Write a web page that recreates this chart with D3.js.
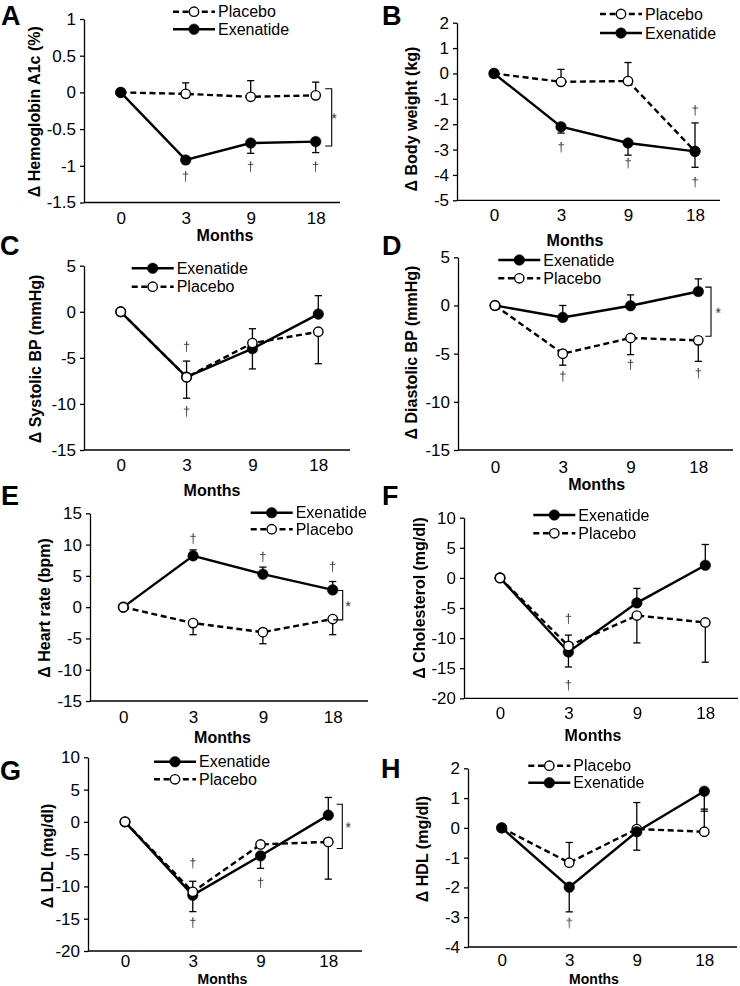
<!DOCTYPE html>
<html><head><meta charset="utf-8">
<script src="https://cdn.jsdelivr.net/npm/d3@7"></script>
<style>
body{margin:0;background:#fff}
svg{display:block}
text{font-family:"Liberation Sans",Arial,Helvetica,sans-serif;fill:#000}
.dags{will-change:transform}
</style>
</head><body>
<svg id="chart" width="740" height="986"></svg>
<script>
// ---------- categories ----------
const months = ["0", "3", "9", "18"];

// ---------- A: Hemoglobin A1c (%) ----------
const hba1cPlacebo      = [0, -0.02, -0.06, -0.04];
const hba1cPlaceboErr   = [0, 0.15, 0.22, 0.18];      // + = bar up, - = bar down
const hba1cExenatide    = [0, -0.92, -0.69, -0.67];
const hba1cExenatideErr = [0, -0.05, -0.14, -0.15];
const hba1cTicks  = [1, 0.5, 0, -0.5, -1, -1.5];
const hba1cLabels = ["1", "0.5", "0", "-0.5", "-1", "-1.5"];
const hba1cDaggers = [["3", -1.14], ["9", -1.01], ["18", -1.01]];
const hba1cBracket = [0.05, -0.73];

// ---------- B: Body weight (kg) ----------
const weightPlacebo      = [0, -0.33, -0.30, -3.07];
const weightPlaceboErr   = [0, 0.49, 0.73, 1.12];
const weightExenatide    = [0, -2.10, -2.74, -3.07];
const weightExenatideErr = [0, -0.25, -0.48, -0.63];
const weightTicks  = [2, 1, 0, -1, -2, -3, -4, -5];
const weightLabels = ["2", "1", "0", "-1", "-2", "-3", "-4", "-5"];
const weightDaggers = [["3", -2.9], ["9", -3.53], ["18", -1.45], ["18", -4.28]];

// ---------- C: Systolic BP (mmHg) ----------
const sbpExenatide    = [0, -7.08, -4.0, -0.25];
const sbpExenatideErr = [0, -2.3, -2.2, 2.0];
const sbpPlacebo      = [0, -7.1, -3.4, -2.17];
const sbpPlaceboErr   = [0, 1.75, 1.56, -3.47];
const bpTicks  = [5, 0, -5, -10, -15];
const bpLabels = ["5", "0", "-5", "-10", "-15"];
const sbpDaggers = [["3", -3.76], ["3", -10.8]];

// ---------- D: Diastolic BP (mmHg) ----------
const dbpExenatide    = [0, -1.24, -0.03, 1.45];
const dbpExenatideErr = [0, 1.24, 1.13, 1.31];
const dbpPlacebo      = [0, -5.0, -3.37, -3.62];
const dbpPlaceboErr   = [0, -1.2, -1.73, -2.18];
const dbpDaggers = [["3", -7.34], ["9", -6.13], ["18", -6.99]];
const dbpBracket = [1.9, -3.2];

// ---------- E: Heart rate (bpm) ----------
const hrExenatide    = [0, 8.2, 5.27, 2.76];
const hrExenatideErr = [0, 0.95, 1.13, 1.34];
const hrPlacebo      = [0, -2.55, -4.0, -1.9];
const hrPlaceboErr   = [0, -1.85, -1.85, -2.5];
const hrTicks  = [15, 10, 5, 0, -5, -10, -15];
const hrLabels = ["15", "10", "5", "0", "-5", "-10", "-15"];
const hrDaggers = [["3", 11.0], ["9", 8.08], ["18", 6.49]];
const hrBracket = [2.65, -2.03];

// ---------- F: Cholesterol (mg/dl) ----------
const cholExenatide    = [0, -12.3, -4.15, 2.1];
const cholExenatideErr = [0, -2.5, 2.4, 3.45];
const cholPlacebo      = [0, -11.3, -6.25, -7.4];
const cholPlaceboErr   = [0, 1.8, -4.55, -6.6];
const lipidTicks  = [10, 5, 0, -5, -10, -15, -20];
const lipidLabels = ["10", "5", "0", "-5", "-10", "-15", "-20"];
const cholDaggers = [["3", -6.74], ["3", -17.8]];

// ---------- G: LDL (mg/dl) ----------
const ldlExenatide    = [0, -11.35, -5.26, 1.04];
const ldlExenatideErr = [0, -2.55, -1.94, 2.74];
const ldlPlacebo      = [0, -10.84, -3.5, -3.1];
const ldlPlaceboErr   = [0, 1.64, 0, -5.77];
const ldlDaggers = [["3", -6.35], ["3", -15.57], ["9", -9.38]];
const ldlBracket = [2.74, -4.12];

// ---------- H: HDL (mg/dl) ----------
const hdlPlacebo      = [0, -1.17, -0.04, -0.13];
const hdlPlaceboErr   = [0, 0.68, 0.89, 0.76];
const hdlExenatide    = [0, -1.99, -0.13, 1.23];
const hdlExenatideErr = [0, -0.83, -0.62, -0.67];
const hdlTicks  = [2, 1, 0, -1, -2, -3, -4];
const hdlLabels = ["2", "1", "0", "-1", "-2", "-3", "-4"];
const hdlDaggers = [["3", -3.15]];

// ---------- panel definitions ----------
const P = (name, values, err) => ({name, values, err, dashed: name === "Placebo", filled: name !== "Placebo"});

const panels = [
  {letter: "A", title: "Δ Hemoglobin A1c (%)", ticks: hba1cTicks, labels: hba1cLabels,
   series: [P("Placebo", hba1cPlacebo, hba1cPlaceboErr), P("Exenatide", hba1cExenatide, hba1cExenatideErr)],
   daggers: hba1cDaggers, bracket: hba1cBracket,
   L: {ax: 84, yTop: 19, yBot: 202.5, x0: 120.7, x1: 315.7, xEnd: 340, tickY: 218, mX: 225, mY: 240.6, mFs: 16,
       tX: 34.5, tY: 111.7, letX: 1, letY: 25, legX: 173, legY: 11.7, legDy: 17.5, brX: 9.5, brW: 6.5, starX: 18.5}},
  {letter: "B", title: "Δ Body weight (kg)", ticks: weightTicks, labels: weightLabels,
   series: [P("Placebo", weightPlacebo, weightPlaceboErr), P("Exenatide", weightExenatide, weightExenatideErr)],
   daggers: weightDaggers, bracket: null,
   L: {ax: 457, yTop: 22.7, yBot: 200.3, x0: 494, x1: 695, xEnd: 720, tickY: 215, mX: 575, mY: 245.6, mFs: 16,
       tX: 411.5, tY: 119, letX: 382, letY: 25, legX: 600, legY: 14, legDy: 19, starX: 0}},
  {letter: "C", title: "Δ Systolic BP (mmHg)", ticks: bpTicks, labels: bpLabels,
   series: [P("Exenatide", sbpExenatide, sbpExenatideErr), P("Placebo", sbpPlacebo, sbpPlaceboErr)],
   daggers: sbpDaggers, bracket: null,
   L: {ax: 84, yTop: 265.7, yBot: 450, x0: 120.7, x1: 318.3, xEnd: 350, tickY: 465, mX: 212, mY: 495.6, mFs: 16,
       tX: 35, tY: 359, letX: 0, letY: 255, legX: 131.7, legY: 268.3, legDy: 18.4, starX: 0}},
  {letter: "D", title: "Δ Diastolic BP (mmHg)", ticks: bpTicks, labels: bpLabels,
   series: [P("Exenatide", dbpExenatide, dbpExenatideErr), P("Placebo", dbpPlacebo, dbpPlaceboErr)],
   daggers: dbpDaggers, bracket: dbpBracket,
   L: {ax: 458, yTop: 257.3, yBot: 450, x0: 495, x1: 698.3, xEnd: 733, tickY: 466.7, mX: 596.7, mY: 489.6, mFs: 16,
       tX: 411, tY: 352.5, letX: 382, letY: 255, legX: 498.3, legY: 260, legDy: 18.3, brX: 7, brW: 5.7, starX: 20}},
  {letter: "E", title: "Δ Heart rate (bpm)", ticks: hrTicks, labels: hrLabels,
   series: [P("Exenatide", hrExenatide, hrExenatideErr), P("Placebo", hrPlacebo, hrPlaceboErr)],
   daggers: hrDaggers, bracket: hrBracket,
   L: {ax: 90, yTop: 513.3, yBot: 701, x0: 123.3, x1: 332.7, xEnd: 368, tickY: 716.7, mX: 222.5, mY: 742.6, mFs: 16,
       tX: 44, tY: 608, letX: 1, letY: 505, legX: 250.7, legY: 512.7, legDy: 16.5, brX: 0.5, brW: 9.5, starX: 15.5}},
  {letter: "F", title: "Δ Cholesterol (mg/dl)", ticks: lipidTicks, labels: lipidLabels,
   series: [P("Exenatide", cholExenatide, cholExenatideErr), P("Placebo", cholPlacebo, cholPlaceboErr)],
   daggers: cholDaggers, bracket: null,
   L: {ax: 464, yTop: 517.7, yBot: 698.3, x0: 500, x1: 705.3, xEnd: 738, tickY: 713.3, mX: 593, mY: 740.6, mFs: 16,
       tX: 419, tY: 598, letX: 382, letY: 505, legX: 533.3, legY: 515, legDy: 18.3, starX: 0}},
  {letter: "G", title: "Δ LDL (mg/dl)", ticks: lipidTicks, labels: lipidLabels,
   series: [P("Exenatide", ldlExenatide, ldlExenatideErr), P("Placebo", ldlPlacebo, ldlPlaceboErr)],
   daggers: ldlDaggers, bracket: ldlBracket,
   L: {ax: 88, yTop: 757.3, yBot: 951, x0: 125, x1: 328.3, xEnd: 362, tickY: 961.5, mX: 222.5, mY: 983.5, mFs: 14,
       tX: 47.5, tY: 856, letX: 0, letY: 780, legX: 154, legY: 761.7, legDy: 17.6, brX: 8.4, brW: 5.6, starX: 20}},
  {letter: "H", title: "Δ HDL (mg/dl)", ticks: hdlTicks, labels: hdlLabels,
   series: [P("Placebo", hdlPlacebo, hdlPlaceboErr), P("Exenatide", hdlExenatide, hdlExenatideErr)],
   daggers: hdlDaggers, bracket: null,
   L: {ax: 468, yTop: 768.3, yBot: 947, x0: 501.7, x1: 704.3, xEnd: 737, tickY: 960.5, mX: 594, mY: 983.5, mFs: 14,
       tX: 422, tY: 849, letX: 381, letY: 778, legX: 528.3, legY: 765.7, legDy: 17, starX: 0}}
];

// ---------- drawing ----------
const svg = d3.select("#chart");
const LW = 2.4, DASH = "6,3.6", R = 5.3, CAP = 3.6;
const FONT = '"Liberation Sans",Arial,sans-serif';

panels.forEach(p => {
  const L = p.L;
  const g = svg.append("g");
  const x = d3.scalePoint().domain(months).range([L.x0, L.x1]);
  const y = d3.scaleLinear().domain(d3.extent(p.ticks)).range([L.yBot, L.yTop]);

  // y axis
  const yAxis = d3.axisLeft(y).tickValues(p.ticks).tickSize(4).tickSizeOuter(0).tickPadding(4)
    .tickFormat((d, i) => p.labels[i]);
  const ya = g.append("g").attr("transform", `translate(${L.ax},0)`).call(yAxis);
  ya.select(".domain").attr("stroke", "#000").attr("stroke-width", 1.3);
  ya.selectAll(".tick line").attr("stroke", "#000").attr("stroke-width", 1.3);
  ya.selectAll(".tick text").attr("font-size", 17).attr("fill", "#000").attr("font-family", FONT);

  // x axis (line + category labels)
  g.append("line").attr("x1", L.ax).attr("x2", L.xEnd).attr("y1", L.yBot).attr("y2", L.yBot)
    .attr("stroke", "#000").attr("stroke-width", 1.3);
  const xAxis = d3.axisBottom(x).tickSize(0).tickPadding(0);
  const xa = g.append("g").attr("transform", `translate(0,${L.tickY})`).call(xAxis);
  xa.select(".domain").remove();
  xa.selectAll(".tick text").attr("font-size", 17).attr("fill", "#000").attr("dy", "0.35em").attr("font-family", FONT);

  // axis titles
  g.append("text").attr("x", L.mX).attr("y", L.mY).attr("text-anchor", "middle")
    .attr("font-size", L.mFs).attr("font-weight", "bold").text("Months");
  g.append("text").attr("transform", `translate(${L.tX},${L.tY}) rotate(-90)`).attr("dy", "0.35em")
    .attr("text-anchor", "middle").attr("font-size", 16).attr("font-weight", "bold").text(p.title);

  // panel letter
  g.append("text").attr("x", L.letX).attr("y", L.letY).attr("font-size", 27).attr("font-weight", "bold").text(p.letter);

  // series
  const line = d3.line().x((d, i) => x(months[i])).y(d => y(d));
  p.series.forEach(s => {
    const sg = g.append("g");
    sg.append("path").datum(s.values).attr("d", line).attr("fill", "none").attr("stroke", "#000")
      .attr("stroke-width", LW).attr("stroke-dasharray", s.dashed ? DASH : null);
    const eb = sg.selectAll("g.eb").data(s.values.map((v, i) => ({m: months[i], v, e: s.err[i]})).filter(d => d.e !== 0))
      .enter().append("g");
    eb.append("line").attr("x1", d => x(d.m)).attr("x2", d => x(d.m)).attr("y1", d => y(d.v)).attr("y2", d => y(d.v + d.e))
      .attr("stroke", "#000").attr("stroke-width", 1.3);
    eb.append("line").attr("x1", d => x(d.m) - CAP).attr("x2", d => x(d.m) + CAP)
      .attr("y1", d => y(d.v + d.e)).attr("y2", d => y(d.v + d.e)).attr("stroke", "#000").attr("stroke-width", 1.3);
    sg.selectAll("circle").data(s.values).enter().append("circle")
      .attr("cx", (d, i) => x(months[i])).attr("cy", d => y(d)).attr("r", s.filled ? R : R - 0.6)
      .attr("fill", s.filled ? "#000" : "#fff").attr("stroke", "#000").attr("stroke-width", s.filled ? 0.5 : 1.4);
  });

  // daggers (slight rotation forces grayscale antialiasing)
  g.append("g").attr("class", "dags").selectAll("text").data(p.daggers).enter().append("text")
    .attr("transform", d => `translate(${x(d[0])},${y(d[1])}) rotate(0.05)`).attr("dy", "0.35em").attr("text-anchor", "middle")
    .attr("font-size", 13).style("fill", "#3a3a3a").text("†");

  // significance bracket
  if (p.bracket) {
    const bx = x(months[3]) + L.brX, bw = L.brW;
    const yt = y(p.bracket[0]), yb = y(p.bracket[1]);
    g.append("path").attr("d", `M${bx},${yt}H${bx + bw}V${yb}H${bx}`).attr("fill", "none")
      .attr("stroke", "#000").attr("stroke-width", 1.1);
    g.append("text").attr("class", "dags")
      .attr("transform", `translate(${x(months[3]) + L.starX},${(yt + yb) / 2 + 6}) rotate(0.05)`)
      .attr("text-anchor", "middle").attr("font-size", 14).style("fill", "#111").text("*");
  }

  // legend
  p.series.forEach((s, i) => {
    const ly = L.legY + i * L.legDy;
    const lg = g.append("g");
    lg.append("line").attr("x1", L.legX).attr("x2", L.legX + 42).attr("y1", ly).attr("y2", ly)
      .attr("stroke", "#000").attr("stroke-width", LW).attr("stroke-dasharray", s.dashed ? DASH : null);
    lg.append("circle").attr("cx", L.legX + 21).attr("cy", ly).attr("r", s.filled ? R : R - 0.6)
      .attr("fill", s.filled ? "#000" : "#fff").attr("stroke", "#000").attr("stroke-width", s.filled ? 0.5 : 1.4);
    lg.append("text").attr("x", L.legX + 45).attr("y", ly).attr("dy", "0.35em").attr("font-size", 16).text(s.name);
  });
});
</script>
</body></html>
